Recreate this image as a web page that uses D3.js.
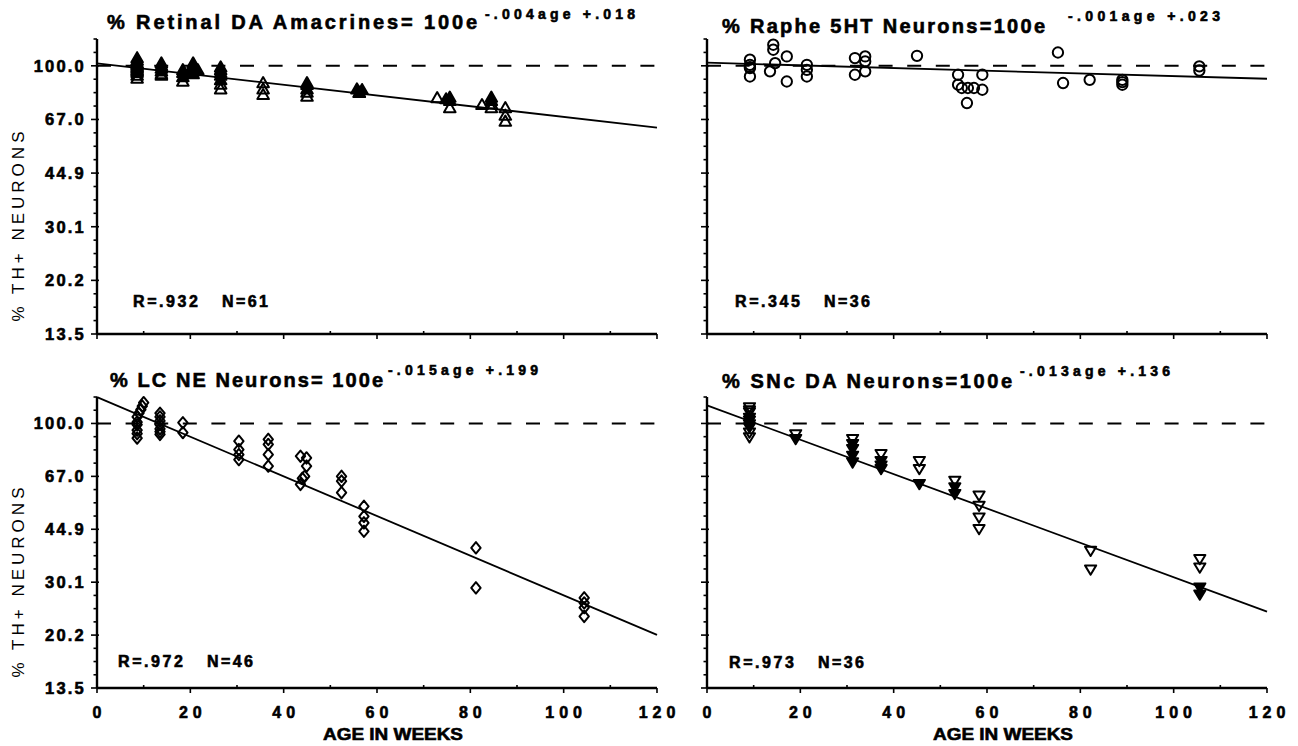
<!DOCTYPE html>
<html>
<head>
<meta charset="utf-8">
<script src="https://cdn.jsdelivr.net/npm/d3@7"></script>
<style>
  body { margin: 0; background: #fff; }
  svg { display: block; }
  text { font-family: "Liberation Sans", Arial, Helvetica, sans-serif; fill: #000; }
  .bold { font-weight: bold; stroke: #000; stroke-width: 0.6px; }
</style>
</head>
<body>
<svg id="chart" width="1298" height="746"></svg>
<script>
// ---- data ----
const ageTicks = [0, 20, 40, 60, 80, 100, 120];
const ageMinorTicks = [10, 30, 50, 70, 90, 110];
const pctTickLabels = ["13.5", "20.2", "30.1", "44.9", "67.0", "100.0"];
const pctDomain = [13.5, 122.1];
const ageDomain = [0, 120];

const titles = ["% Retinal DA Amacrines= 100e", "% Raphe 5HT Neurons=100e", "% LC NE Neurons= 100e", "% SNc DA Neurons=100e"];
const exponents = ["-.004age +.018", "-.001age +.023", "-.015age +.199", "-.013age +.136"];
const fitSlopes = [-0.004, -0.001, -0.015, -0.013];
const fitIntercepts = [0.018, 0.023, 0.199, 0.136];
const rLabels = ["R=.932", "R=.345", "R=.972", "R=.973"];
const nLabels = ["N=61", "N=36", "N=46", "N=36"];

// [age in weeks, % TH+ neurons, filled marker]
const retinalPts = [
  [8.6,106,1],[8.6,104,1],[8.6,102,1],[8.6,101,1],[8.6,100,1],[8.6,99,1],[8.6,98,1],[8.6,97,1],[8.6,96,1],[8.6,95,0],[8.6,93,0],[8.6,91,0],
  [13.8,102,1],[13.8,100,1],[13.8,98,1],[13.8,96,1],[13.8,94,0],[13.8,93,0],
  [18.4,97,1],[18.4,95,1],[18.4,92,1],[18.4,89,0],
  [20.6,102,1],[20.6,100,1],[20.6,98,1],[20.6,96,1],[20.6,94,1],[21.6,97,1],[19.8,95,1],
  [26.5,99,1],[26.5,97,1],[26.5,95,1],[26.5,93,1],[26.5,90,1],[26.5,87,0],[26.5,84,0],
  [35.6,88,0],[35.6,84,0],[35.6,80.5,0],
  [45,88,1],[45,86.8,1],[45,84,1],[45,82,0],[45,79.5,0],
  [55.7,84,1],[56.8,83.6,1],[56.2,82,1],[56.2,81.7,0],
  [72.9,78.7,0],
  [75.6,79,1],[75.6,77,1],[74.8,78,1],[75.6,73,0],
  [82.5,74.7,0],
  [84.5,79,1],[84.5,77,1],[84.5,75,0],[84.5,73,0],
  [87.5,73,0],[87.5,69,0],[87.5,66,0]
];
const raphePts = [
  [9.2,104.6],[9.2,100.7],[9.2,99],[9.2,98.3],[9.2,92.3],
  [13.5,95.9],
  [14.2,117],[14.2,112.7],
  [14.6,102],
  [17.1,107.2],[17.1,88.9],
  [21.4,100.7],[21.4,97],[21.4,92.3],
  [31.7,105.9],[31.7,93.5],
  [33.9,107.2],[33.9,103.3],[33.9,95.9],
  [45,107.7],
  [53.8,93.5],[53.8,86.8],
  [54.6,84.7],[55.9,84.7],[57.2,84.7],
  [55.7,75.7],
  [59,93.5],[59,83.6],
  [75.2,110.4],
  [76.3,87.9],
  [82,90],
  [89,90],[89,88.5],[89,86.8],
  [105.5,99.5],[105.5,96.5]
];
const lcPts = [
  [10.0,117],[9.7,114],[9.4,111],[9.0,108],[8.6,105],[8.6,101],[8.6,99],[8.6,95],[8.6,92.5],[8.6,89.5],
  [13.5,108],[13.5,105],[13.5,102],[13.5,99],[13.5,96],[13.5,94],[13.5,92],
  [18.4,100.5],[18.4,93.3],
  [30.4,87.4],[30.4,82],[30.4,79],[30.4,76],
  [36.7,88.6],[36.7,85.3],[36.7,79],[36.7,72.4],
  [43.6,78],[44.9,77],[44.9,72.4],[44.5,67],[44,66],[43.6,63],
  [52.4,67],[52.4,64.6],[52.4,59.2],
  [57.2,53.4],[57.2,49.5],[57.2,47.1],[57.2,44.2],
  [81.2,39],[81.2,28.8],
  [104.4,26.7],[104.4,25.7],[104.4,24.8],[104.4,23.2]
];
const sncPts = [
  [9.1,112.6,0],[9.1,110,0],[9.1,108.4,0],[9.1,104,1],[9.1,101.8,1],[9.1,99,1],[9.1,96.8,1],[9.1,93,0],[9.1,89.7,0],
  [19,91.8,0],[19,88.6,1],
  [31.2,88.6,0],[31.2,85.3,1],[31.2,82.1,1],[31.2,78,1],[31.2,74.2,1],
  [37.3,79,0],[37.3,75,1],[37.3,72.5,1],[37.3,70.6,1],
  [45.5,75,0],[45.5,70.6,0],[45.5,63,1],
  [53.1,64.6,0],[53.1,61.4,1],[53.1,58.4,1],
  [58.3,57.7,0],[58.3,53.4,0],[58.3,48.9,0],[58.3,44.8,0],
  [82.2,38,0],[82.2,33,0],
  [105.6,35.7,0],[105.6,33.5,0],[105.6,28.8,1],[105.6,27.3,1]
];

// ---- layout ----
const shapes = {
  triUp: "M0,-5.8L5.8,4.3L-5.8,4.3Z",
  triDown: "M0,4.8L5.6,-4.5L-5.6,-4.5Z",
  circle: d3.symbol(d3.symbolCircle, 84)(),
  diamond: "M0,-5.7L4.7,0L0,5.7L-4.7,0Z"
};

const panels = [
  { x0: 97,  x1: 657,  yTop: 39,  yBot: 334, pts: retinalPts, shape: "triUp",   yLabels: true,  xLabels: false,
    title: [107, 29, 370], sup: [485, 19, 150], rn: [133, 307] },
  { x0: 707, x1: 1267, yTop: 39,  yBot: 334, pts: raphePts.map(d => [d[0], d[1], 0]), shape: "circle", yLabels: false, xLabels: false,
    title: [722, 33, 323], sup: [1068, 21, 152], rn: [735, 307] },
  { x0: 97,  x1: 657,  yTop: 397, yBot: 688, pts: lcPts.map(d => [d[0], d[1], 0]), shape: "diamond", yLabels: true,  xLabels: true,
    title: [110, 387, 273], sup: [388, 375, 150], rn: [118, 667] },
  { x0: 707, x1: 1267, yTop: 397, yBot: 688, pts: sncPts, shape: "triDown", yLabels: false, xLabels: true,
    title: [722, 388, 290], sup: [1020, 376, 150], rn: [729, 668] }
];

const svg = d3.select("#chart");

panels.forEach((p, i) => {
  const x = d3.scaleLinear().domain(ageDomain).range([p.x0, p.x1]);
  const y = d3.scaleLog().domain(pctDomain).range([p.yBot, p.yTop]);
  const g = svg.append("g");

  // y ticks: quarter steps in log space, labelled every fourth
  const nMinor = 22;
  d3.range(nMinor + 1).forEach(k => {
    const v = pctDomain[0] * Math.pow(pctDomain[1] / pctDomain[0], k / nMinor);
    const major = k % 4 === 0 && k <= 20;
    g.append("line")
      .attr("x1", p.x0 - (major ? 6 : 3.5)).attr("x2", p.x0 + (major ? 2 : 0))
      .attr("y1", y(v)).attr("y2", y(v))
      .attr("stroke", "#000").attr("stroke-width", 1.6);
  });

  if (p.yLabels) {
    pctTickLabels.forEach(lbl => {
      g.append("text").attr("class", "bold")
        .attr("x", p.x0 - 11).attr("y", y(+lbl) + 6)
        .attr("text-anchor", "end")
        .style("font-size", "16.5px").style("letter-spacing", "2.2px")
        .text(lbl);
    });
    g.append("text")
      .attr("transform", `translate(24,${(p.yTop + p.yBot) / 2 + 40}) rotate(-90)`)
      .attr("text-anchor", "middle")
      .attr("textLength", 190).attr("lengthAdjust", "spacing")
      .style("font-size", "17px")
      .text("% TH+ NEURONS");
  }

  // x ticks
  ageTicks.forEach(t => {
    g.append("line").attr("x1", x(t)).attr("x2", x(t))
      .attr("y1", p.yBot).attr("y2", p.yBot + 5)
      .attr("stroke", "#000").attr("stroke-width", 1.6);
  });
  ageMinorTicks.forEach(t => {
    g.append("line").attr("x1", x(t)).attr("x2", x(t))
      .attr("y1", p.yBot - 3).attr("y2", p.yBot)
      .attr("stroke", "#000").attr("stroke-width", 1.6);
  });

  if (p.xLabels) {
    ageTicks.forEach(t => {
      g.append("text").attr("class", "bold")
        .attr("x", x(t) + 2.5).attr("y", p.yBot + 30)
        .attr("text-anchor", "middle")
        .style("font-size", "16px").style("letter-spacing", "5px")
        .text(t);
    });
    g.append("text").attr("class", "bold")
      .attr("x", (p.x0 + p.x1) / 2 + 16).attr("y", p.yBot + 52)
      .attr("text-anchor", "middle")
      .attr("textLength", 140).attr("lengthAdjust", "spacingAndGlyphs")
      .style("font-size", "17px")
      .text("AGE IN WEEKS");
  }

  // axes
  g.append("line").attr("x1", p.x0).attr("x2", p.x0).attr("y1", p.yTop).attr("y2", p.yBot)
    .attr("stroke", "#000").attr("stroke-width", 2.4);
  g.append("line").attr("x1", p.x0).attr("x2", p.x1).attr("y1", p.yBot).attr("y2", p.yBot)
    .attr("stroke", "#000").attr("stroke-width", 2.4);

  // 100% reference
  g.append("line").attr("x1", x(ageDomain[0])).attr("x2", x(ageDomain[1]))
    .attr("y1", y(100)).attr("y2", y(100))
    .attr("stroke", "#000").attr("stroke-width", 2).attr("stroke-dasharray", "14,14.6");

  // fitted exponential: 100 e^(slope*age + intercept), straight on the log axis
  const fit = age => 100 * Math.exp(fitSlopes[i] * age + fitIntercepts[i]);
  g.append("path")
    .datum(ageDomain)
    .attr("d", d3.line().x(a => x(a)).y(a => y(fit(a))))
    .attr("fill", "none").attr("stroke", "#000").attr("stroke-width", 1.8);

  // points
  g.selectAll("path.pt").data(p.pts).enter().append("path").attr("class", "pt")
    .attr("d", shapes[p.shape])
    .attr("transform", d => `translate(${x(d[0])},${y(d[1])})`)
    .attr("fill", d => d[2] ? "#000" : "none")
    .attr("stroke", "#000").attr("stroke-width", 2).attr("stroke-linejoin", "round");

  // title with exponent
  g.append("text").attr("class", "bold")
    .attr("x", p.title[0]).attr("y", p.title[1])
    .attr("textLength", p.title[2]).attr("lengthAdjust", "spacing")
    .style("font-size", "20px")
    .text(titles[i]);
  g.append("text").attr("class", "bold")
    .attr("x", p.sup[0]).attr("y", p.sup[1])
    .attr("textLength", p.sup[2]).attr("lengthAdjust", "spacing")
    .style("font-size", "14px")
    .text(exponents[i]);

  // correlation / sample size
  g.append("text").attr("class", "bold")
    .attr("x", p.rn[0]).attr("y", p.rn[1])
    .attr("textLength", 65).attr("lengthAdjust", "spacing")
    .style("font-size", "16px")
    .text(rLabels[i]);
  g.append("text").attr("class", "bold")
    .attr("x", p.rn[0] + 89).attr("y", p.rn[1])
    .attr("textLength", 46).attr("lengthAdjust", "spacing")
    .style("font-size", "16px")
    .text(nLabels[i]);
});
</script>
</body>
</html>
